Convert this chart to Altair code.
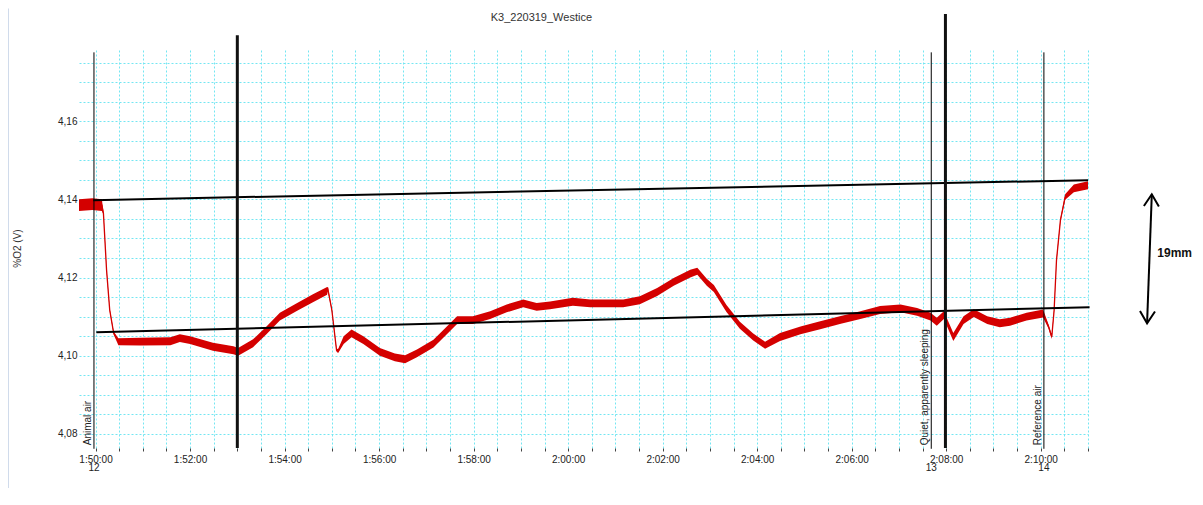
import altair as alt
import pandas as pd

DAY = "2019-03-22T"

# ---- red O2 trace (centre values) ----
trace_times = ["01:49:39","01:49:56","01:50:08","01:50:10","01:50:14","01:50:18","01:50:23","01:50:29",
               "01:50:57","01:51:35","01:51:47","01:52:00","01:52:29","01:52:55","01:53:01","01:53:20",
               "01:53:37","01:53:54","01:54:16","01:54:36","01:54:54","01:54:55","01:55:00","01:55:06",
               "01:55:08","01:55:15","01:55:25","01:55:40","01:56:01","01:56:20","01:56:33","01:56:48",
               "01:57:09","01:57:26","01:57:39","01:57:59","01:58:21","01:58:42","01:59:03","01:59:20",
               "01:59:37","02:00:06","02:00:28","02:01:10","02:01:31","02:01:53","02:02:14","02:02:35",
               "02:02:44","02:02:56","02:03:05","02:03:21","02:03:38","02:03:55","02:04:10","02:04:29",
               "02:04:55","02:05:20","02:05:45","02:06:11","02:06:36","02:07:02","02:07:23","02:07:40",
               "02:07:48","02:07:57","02:08:09","02:08:22","02:08:35","02:08:52","02:09:08","02:09:21",
               "02:09:42","02:10:03","02:10:10","02:10:14","02:10:17","02:10:20","02:10:25","02:10:31",
               "02:10:42","02:11:00"]
trace_values = [4.1385,4.1388,4.1385,4.1365,4.1219,4.1117,4.1058,4.1036,
                4.1036,4.1037,4.1045,4.1040,4.1023,4.1014,4.1010,4.1032,
                4.1065,4.1100,4.1125,4.1147,4.1166,4.1170,4.1117,4.1014,
                4.1012,4.1040,4.1057,4.1040,4.1010,4.0996,4.0991,4.1006,
                4.1031,4.1065,4.1091,4.1091,4.1104,4.1121,4.1134,4.1125,
                4.1129,4.1138,4.1134,4.1134,4.1142,4.1163,4.1189,4.1210,
                4.1216,4.1188,4.1172,4.1121,4.1078,4.1048,4.1027,4.1048,
                4.1065,4.1078,4.1091,4.1104,4.1117,4.1121,4.1112,4.1100,
                4.1087,4.1104,4.1048,4.1091,4.1109,4.1091,4.1083,4.1087,
                4.1100,4.1108,4.1074,4.1048,4.1117,4.1244,4.1347,4.1406,
                4.1428,4.1436]
# half-width of the noise band around the trace
trace_noise = [0.0015,0.0015,0.0015,0.0004,0.0004,0.0004,0.0004,0.0009,
               0.0010,0.0010,0.0010,0.0010,0.0010,0.0010,0.0010,0.0010,
               0.0010,0.0010,0.0010,0.0010,0.0010,0.0005,0.0004,0.0004,
               0.0005,0.0010,0.0010,0.0010,0.0010,0.0010,0.0010,0.0010,
               0.0010,0.0010,0.0010,0.0010,0.0010,0.0010,0.0010,0.0010,
               0.0010,0.0010,0.0010,0.0010,0.0010,0.0010,0.0010,0.0010,
               0.0009,0.0009,0.0009,0.0009,0.0009,0.0009,0.0009,0.0010,
               0.0010,0.0010,0.0010,0.0010,0.0010,0.0010,0.0010,0.0010,
               0.0010,0.0010,0.0010,0.0010,0.0010,0.0010,0.0010,0.0010,
               0.0010,0.0010,0.0005,0.0005,0.0004,0.0004,0.0004,0.0007,
               0.0010,0.0010]
assert len(trace_times) == len(trace_values) == len(trace_noise)

# ---- black trend lines ----
trend_names = ["upper", "upper", "lower", "lower"]
trend_times = ["01:49:57", "02:11:00", "01:50:01", "02:11:02"]
trend_values = [4.1398, 4.1449, 4.1060, 4.1124]

# ---- event markers ----
event_times = ["01:49:58", "02:07:41", "02:10:04"]
event_labels = ["Animal air", "Quiet, apparently sleeping", "Reference air"]
event_numbers = ["12", "13", "14"]
event_top = 4.1776
event_bottom = 4.0762

marker_times = ["01:53:00", "02:07:59"]
marker_tops = [4.1820, 4.1874]

title_text = "K3_220319_Westice"
title_time = "01:59:26"
title_value = 4.1863
y_title = "%O2 (V)"

arrow_times = ["02:12:21", "02:12:15"]
arrow_values = [4.1413, 4.1083]
arrow_label = "19mm"
arrow_label_time = "02:12:28"
arrow_label_value = 4.1262

border_time = "01:48:09"
border_values = [4.1888, 4.0638]

X_MIN, X_MAX = "01:49:39", "02:11:00"
Y_MIN, Y_MAX = 4.0764, 4.1782

RED = "#d40000"
GRID = "#74e6f2"
FONT = "Liberation Sans"


def ts(s):
    return DAY + s


def dt(s):
    h, m, sec = map(int, s.split(":"))
    return alt.DateTime(year=2019, month=3, date=22, hours=h, minutes=m, seconds=sec)


def dt_sec(total):
    h = 1 + (50 * 60 + total) // 3600
    rem = (50 * 60 + total) % 3600
    return alt.DateTime(year=2019, month=3, date=22, hours=h, minutes=rem // 60, seconds=rem % 60)


x_values = [dt_sec(s) for s in range(0, 1261, 30)]
y_values = [round(4.08 + 0.005 * i, 3) for i in range(20)]

xscale = alt.Scale(domain=[dt(X_MIN), dt(X_MAX)])
yscale = alt.Scale(domain=[Y_MIN, Y_MAX], zero=False, nice=False)

xaxis = alt.Axis(
    values=x_values, grid=True, gridColor=GRID, gridDash=[2, 2], gridWidth=1,
    domain=False, ticks=True, tickSize=3, tickColor="#444",
    labelExpr="(minutes(datum.value) % 2 == 0 && seconds(datum.value) == 0) ? timeFormat(datum.value, '%-H:%M:%S') : ''",
    labelFont=FONT, labelFontSize=10, labelColor="#222", labelPadding=3,
    labelOverlap=False, labelFlush=False, labelBound=False, title=None,
)
yaxis = alt.Axis(
    values=y_values, grid=True, gridColor=GRID, gridDash=[2, 2], gridWidth=1,
    domain=False, ticks=False,
    labelExpr="round(datum.value * 200) % 4 == 0 ? replace(format(datum.value, '.2f'), '.', ',') : ''",
    labelFont=FONT, labelFontSize=10, labelColor="#222", labelPadding=2,
    labelOverlap=False, labelBound=False,
    title=y_title, titleFont=FONT, titleFontSize=10, titleFontWeight="normal",
    titleColor="#333", titleAngle=270, titleX=-62, titleY=198,
    titleAlign="center", titleBaseline="middle",
)


def X(field="t"):
    return alt.X(f"{field}:T", scale=xscale, axis=xaxis)


def Y(field="v"):
    return alt.Y(f"{field}:Q", scale=yscale, axis=yaxis)


trace_df = pd.DataFrame({
    "t": [ts(s) for s in trace_times],
    "v": trace_values,
    "lo": [v - n for v, n in zip(trace_values, trace_noise)],
    "hi": [v + n for v, n in zip(trace_values, trace_noise)],
})
trend_df = pd.DataFrame({"t": [ts(s) for s in trend_times], "v": trend_values, "g": trend_names})
event_df = pd.DataFrame({
    "t": [ts(s) for s in event_times],
    "label": event_labels,
    "num": event_numbers,
    "top": [event_top] * 3,
    "bottom": [event_bottom] * 3,
    "ly": [4.0771] * 3,
    "ny": [4.0712] * 3,
})
marker_df = pd.DataFrame({"t": [ts(s) for s in marker_times], "top": marker_tops, "bottom": [Y_MIN] * 2})
title_df = pd.DataFrame({"t": [ts(title_time)], "v": [title_value], "label": [title_text]})
arrow_df = pd.DataFrame({"t": [ts(s) for s in arrow_times], "v": arrow_values,
                         "shape": ["M-1,1.6L0,0L1,1.6", "M-1,-1.6L0,0L1,-1.6"]})
arrow_text_df = pd.DataFrame({"t": [ts(arrow_label_time)], "v": [arrow_label_value], "label": [arrow_label]})
border_df = pd.DataFrame({"t": [ts(border_time)], "top": [border_values[0]], "bottom": [border_values[1]]})

band = alt.Chart(trace_df).mark_area(color=RED, opacity=1).encode(x=X(), y=Y("lo"), y2="hi:Q")
line = alt.Chart(trace_df).mark_line(color=RED, strokeWidth=1.3).encode(x=X(), y=Y())

trends = alt.Chart(trend_df).mark_line(color="#000", strokeWidth=2).encode(x=X(), y=Y(), detail="g:N")

event_rules = alt.Chart(event_df).mark_rule(color="#000", strokeWidth=1).encode(x=X(), y=Y("top"), y2="bottom:Q")
event_text = alt.Chart(event_df).mark_text(
    angle=270, align="left", baseline="bottom", font=FONT, fontSize=10, color="#222", dy=-1
).encode(x=X(), y=Y("ly"), text="label:N")
event_nums = alt.Chart(event_df).mark_text(
    align="center", baseline="middle", font=FONT, fontSize=10, color="#222"
).encode(x=X(), y=Y("ny"), text="num:N")

markers = alt.Chart(marker_df).mark_rule(color="#111", strokeWidth=3).encode(x=X(), y=Y("top"), y2="bottom:Q")

title = alt.Chart(title_df).mark_text(
    align="center", baseline="middle", font=FONT, fontSize=11, color="#333"
).encode(x=X(), y=Y(), text="label:N")

arrow_line = alt.Chart(arrow_df).mark_line(color="#000", strokeWidth=2).encode(x=X(), y=Y())
arrow_heads = alt.Chart(arrow_df).mark_point(
    filled=False, color="#000", strokeWidth=2, size=225, angle=2, opacity=1
).encode(x=X(), y=Y(), shape=alt.Shape("shape:N", scale=None, legend=None))
arrow_text = alt.Chart(arrow_text_df).mark_text(
    align="left", baseline="middle", font=FONT, fontSize=12, fontWeight="bold", color="#111"
).encode(x=X(), y=Y(), text="label:N")

border = alt.Chart(border_df).mark_rule(color="#c9d5e8", strokeWidth=1.5).encode(x=X(), y=Y("top"), y2="bottom:Q")

chart = alt.layer(
    border, band, line, trends, event_rules, markers, event_text, event_nums,
    title, arrow_line, arrow_heads, arrow_text,
).properties(
    width=1009, height=398,
    autosize=alt.AutoSizeParams(type="none"),
    padding={"left": 71, "top": 42, "right": 104, "bottom": 40},
    background="white",
).configure_view(stroke=None)

chart.save("out.html", embed_options={"renderer": "svg", "actions": False})
